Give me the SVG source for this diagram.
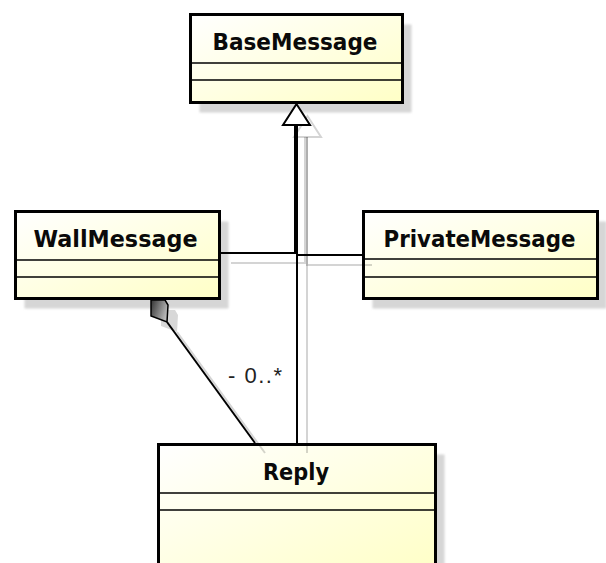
<svg xmlns="http://www.w3.org/2000/svg" width="606" height="563" viewBox="0 0 606 563">
  <defs>
    <linearGradient id="classFill" x1="0" y1="0" x2="1" y2="1">
      <stop offset="0" stop-color="#ffffff"/>
      <stop offset="1" stop-color="#ffffc6"/>
    </linearGradient>
    <linearGradient id="diamondFill" x1="0" y1="0" x2="1" y2="0.4">
      <stop offset="0" stop-color="#333"/>
      <stop offset="1" stop-color="#b8b8b8"/>
    </linearGradient>
    <filter id="soft" x="-10%" y="-10%" width="120%" height="120%">
      <feGaussianBlur stdDeviation="1.2"/>
    </filter>
  </defs>
  <style>
    .box{fill:url(#classFill);stroke:#000;stroke-width:3}
    .sep{stroke:#000;stroke-width:1.6}
    .drop{fill:#d6d6d6;filter:url(#soft)}
    .name{font-family:"DejaVu Sans",Verdana,sans-serif;font-weight:bold;font-size:23px;fill:#0a0a0a;text-anchor:middle}
    .edge{fill:none;stroke:#000;stroke-width:2}
    .edge-shadow{fill:none;stroke:#000;stroke-opacity:0.17;stroke-width:2}
    .mult{font-family:"Liberation Sans",Arial,sans-serif;font-size:22px;fill:#222}
  </style>

  <rect width="606" height="563" fill="#fff"/>

  <!-- classes -->
  <g id="BaseMessage">
    <rect class="drop" x="199.5" y="24.5" width="212" height="88"/>
    <rect class="box" x="190.5" y="14.5" width="212" height="88"/>
    <line class="sep" x1="190" y1="63" x2="403" y2="63"/>
    <line class="sep" x1="190" y1="80" x2="403" y2="80"/>
    <text class="name" x="295" y="49.5" textLength="165" lengthAdjust="spacingAndGlyphs">BaseMessage</text>
  </g>

  <g id="WallMessage">
    <rect class="drop" x="24.5" y="221.5" width="204" height="87"/>
    <rect class="box" x="15.5" y="211.5" width="204" height="87"/>
    <line class="sep" x1="15" y1="260" x2="220" y2="260"/>
    <line class="sep" x1="15" y1="277" x2="220" y2="277"/>
    <text class="name" x="115.5" y="246.5" textLength="164" lengthAdjust="spacingAndGlyphs">WallMessage</text>
  </g>

  <g id="PrivateMessage">
    <rect class="drop" x="372.5" y="221.5" width="234" height="87"/>
    <rect class="box" x="363.5" y="211.5" width="234" height="87"/>
    <line class="sep" x1="363" y1="259" x2="598" y2="259"/>
    <line class="sep" x1="363" y1="277" x2="598" y2="277"/>
    <text class="name" x="479.5" y="246.5" textLength="192" lengthAdjust="spacingAndGlyphs">PrivateMessage</text>
  </g>

  <g id="Reply">
    <rect class="drop" x="167.5" y="454.5" width="277" height="130"/>
    <rect class="box" x="158.5" y="444.5" width="277" height="130"/>
    <line class="sep" x1="158" y1="493" x2="436" y2="493"/>
    <line class="sep" x1="158" y1="510" x2="436" y2="510"/>
    <text class="name" x="296" y="479.5" textLength="66" lengthAdjust="spacingAndGlyphs">Reply</text>
  </g>

  <!-- connectors -->
  <g id="connectors">
    <!-- offset shadows -->
    <path class="edge-shadow" d="M231 263 H305 V137"/>
    <path class="edge-shadow" d="M372 265 H307 V137"/>
    <path class="edge-shadow" d="M307 453 V137"/>
    <path class="edge-shadow" d="M177 332 L265 453"/>
    <polygon points="307.5,116 294,137 321,137" fill="#fff" stroke="#000" stroke-opacity="0.17" stroke-width="2"/>
    <polygon points="161,310 175,310 178,315 177,332 161,326" fill="#d8d8d8"/>

    <!-- generalizations to BaseMessage -->
    <path class="edge" d="M221 253 H295 V125"/>
    <path class="edge" d="M362 255 H297 V125"/>
    <path class="edge" d="M297 443 V125"/>
    <polygon points="296.5,104 283,125 310,125" fill="#fff" stroke="#000" stroke-width="2" stroke-linejoin="miter"/>

    <!-- composition WallMessage to Reply -->
    <path class="edge" d="M167 322 L255 443"/>
    <polygon points="151,300 165,300 168,305 167,322 151,316" fill="url(#diamondFill)" stroke="#000" stroke-width="1.5"/>
    <text class="mult" x="228" y="383" textLength="54" lengthAdjust="spacing">- 0..*</text>
  </g>
</svg>
